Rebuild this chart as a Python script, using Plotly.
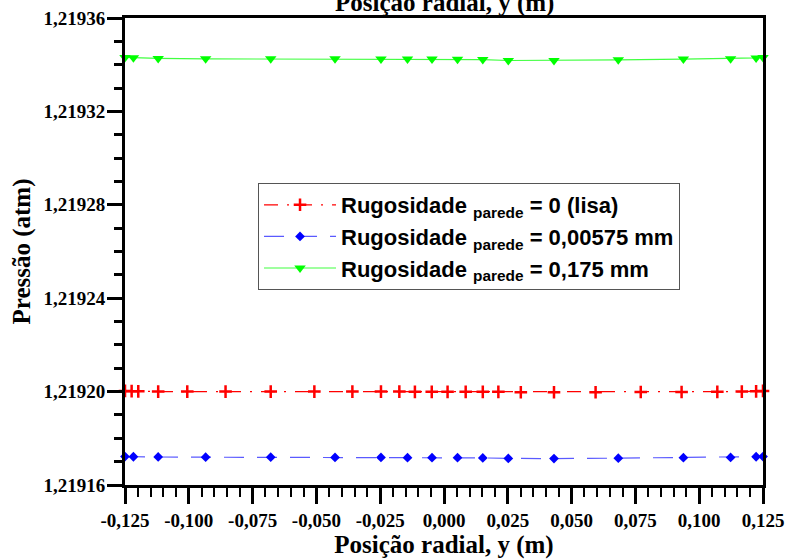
import plotly.graph_objects as go

# ---- data ----
x_red = [-0.125, -0.1224, -0.1198, -0.1120, -0.1006, -0.0856, -0.0679, -0.0508,
         -0.0359, -0.0247, -0.0175, -0.0114, -0.0048, 0.0014, 0.0085, 0.0152,
         0.0213, 0.0301, 0.0431, 0.0594, 0.0771, 0.0931, 0.1071, 0.1167, 0.1223, 0.125]
y_red = [1.2192003, 1.2192002, 1.2192001, 1.2192000, 1.2192000, 1.2192000, 1.2192000, 1.2192000,
         1.2192000, 1.2192000, 1.2192000, 1.2191999, 1.2191999, 1.2191999, 1.2191999, 1.2191999,
         1.2191999, 1.2191997, 1.2191997, 1.2191997, 1.2191998, 1.2191998, 1.2191999, 1.2192000, 1.2192001, 1.2192003]

x_mesh = [-0.125, -0.1217, -0.1120, -0.0934, -0.0679, -0.0427, -0.0247, -0.0143, -0.0047,
          0.0053, 0.0152, 0.0252, 0.0431, 0.0683, 0.0938, 0.1123, 0.1223, 0.125]
y_blue = [1.2191722, 1.2191721, 1.2191720, 1.2191719, 1.2191719, 1.2191718, 1.2191718, 1.2191717, 1.2191717,
          1.2191717, 1.2191716, 1.2191714, 1.2191713, 1.2191715, 1.2191717, 1.2191718, 1.2191721, 1.2191722]
y_green = [1.2193431, 1.2193430, 1.2193427, 1.2193425, 1.2193425, 1.2193425, 1.2193424, 1.2193424, 1.2193424,
           1.2193423, 1.2193422, 1.2193418, 1.2193418, 1.2193421, 1.2193424, 1.2193426, 1.2193429, 1.2193431]

names = ["Rugosidade <sub>parede</sub> = 0 (lisa)",
         "Rugosidade <sub>parede</sub> = 0,00575 mm",
         "Rugosidade <sub>parede</sub> = 0,175 mm"]

x_tickvals = [-0.125, -0.100, -0.075, -0.050, -0.025, 0.000, 0.025, 0.050, 0.075, 0.100, 0.125]
x_ticktext = ["-0,125", "-0,100", "-0,075", "-0,050", "-0,025", "0,000",
              "0,025", "0,050", "0,075", "0,100", "0,125"]
y_tickvals = [1.21916, 1.21920, 1.21924, 1.21928, 1.21932, 1.21936]
y_ticktext = ["1,21916", "1,21920", "1,21924", "1,21928", "1,21932", "1,21936"]

x_title = "Posição radial, y (m)"
y_title = "Pressão (atm)"

fig = go.Figure()
fig.add_trace(go.Scatter(
    x=x_red, y=y_red, name=names[0], mode="lines+markers", cliponaxis=False,
    line=dict(color="#ff0000", width=1.2, dash="14px,9px,2px,9px"),
    marker=dict(symbol="cross-thin-open", size=9, color="#ff0000",
                line=dict(color="#ff0000", width=2.5))))
fig.add_trace(go.Scatter(
    x=x_mesh, y=y_blue, name=names[1], mode="lines+markers", cliponaxis=False,
    line=dict(color="#5a5aff", width=1.2, dash="20px,13px"),
    marker=dict(symbol="diamond", size=7.5, color="#0000ff")))
fig.add_trace(go.Scatter(
    x=x_mesh, y=y_green, name=names[2], mode="lines+markers", cliponaxis=False,
    line=dict(color="#40ff40", width=1.2),
    marker=dict(symbol="triangle-down", size=10, color="#00ff00")))

tickfont = dict(family="Liberation Serif", size=19, color="black", weight="bold")
titlefont = dict(family="Liberation Serif", size=25, color="black", weight="bold")

fig.update_layout(
    width=789, height=560,
    margin=dict(l=125, r=26, t=18, b=75),
    paper_bgcolor="white", plot_bgcolor="white",
    showlegend=True,
    legend=dict(x=0.2085, y=0.6467, xanchor="left", yanchor="top",
                bgcolor="white", bordercolor="#555555", borderwidth=1,
                font=dict(family="Liberation Sans", size=22, color="black", weight="bold"),
                itemwidth=72, tracegroupgap=0),
    xaxis=dict(range=[-0.125, 0.125], tickvals=x_tickvals, ticktext=x_ticktext,
               automargin=False,
               showgrid=False, zeroline=False, showline=True, linecolor="black", linewidth=3,
               mirror=True, ticks="outside", ticklen=16, tickwidth=2.5, tickcolor="black",
               tickfont=tickfont,
               minor=dict(dtick=0.005, ticks="outside", ticklen=9, tickwidth=1.5, tickcolor="black"),
               title=dict(text=x_title, font=titlefont, standoff=6)),
    yaxis=dict(range=[1.21916, 1.21936], tickvals=y_tickvals, ticktext=y_ticktext,
               automargin=False, ticklabelstandoff=-2,
               showgrid=False, zeroline=False, showline=True, linecolor="black", linewidth=3,
               mirror=True, ticks="outside", ticklen=15, tickwidth=2.5, tickcolor="black",
               tickfont=tickfont,
               minor=dict(dtick=0.00001, ticks="outside", ticklen=8, tickwidth=2.5, tickcolor="black"),
               title=dict(text=y_title, font=titlefont, standoff=6)),
    annotations=[dict(text=x_title, xref="paper", yref="paper", x=0.5, y=0.997,
                      xanchor="center", yanchor="bottom", showarrow=False, font=titlefont)],
)

fig.write_html("out.html", config={"displayModeBar": False},
               post_script="document.body.style.margin='0';document.body.style.padding='0';")
